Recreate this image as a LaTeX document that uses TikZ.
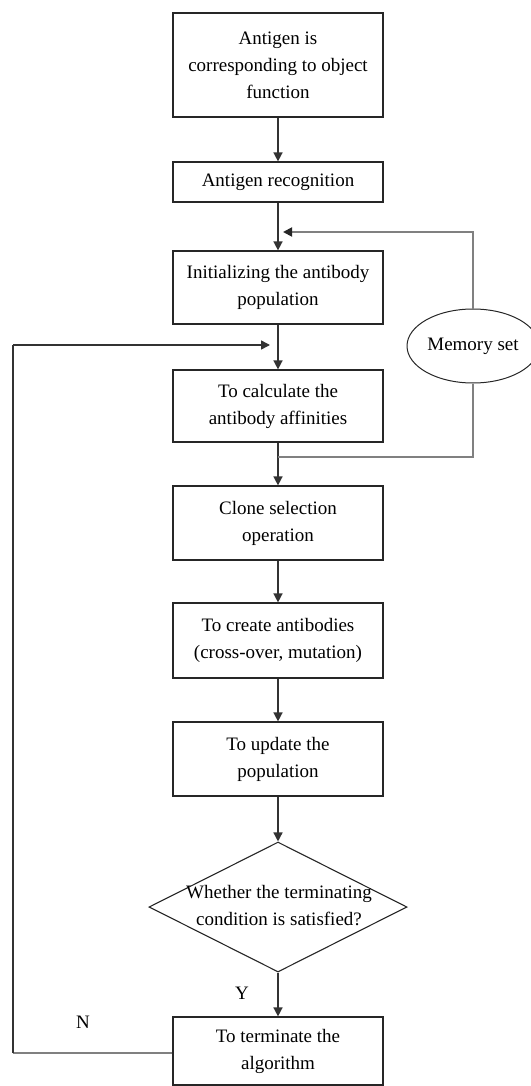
\documentclass[tikz,border=0pt]{standalone}
\usepackage{fontspec}
\setmainfont{Liberation Serif}
\usetikzlibrary{arrows.meta,shapes.geometric}
\tikzset{
  txt/.style={font=\fontsize{19pt}{27pt}\selectfont, align=center},
  box/.style={txt, draw=black!85, line width=1.2pt, minimum width=210pt, inner sep=0pt},
  arr/.style={draw=black!80, line width=1.5pt, -{Triangle[width=9pt,length=9pt]}},
  dline/.style={draw=black!80, line width=1.5pt},
  gline/.style={draw=black!50, line width=1.8pt},
  garr/.style={draw=black!50, line width=1.8pt, -{Triangle[width=9pt,length=9pt,color=black!85]}},
}
\begin{document}
\begin{tikzpicture}[x=1pt,y=-1pt]
\useasboundingbox (0,0) rectangle (530,1086);
\node[box, minimum height=104pt] (b1) at (278,65) {Antigen is\\corresponding to object\\function};
\node[box, minimum height=40pt] (b2) at (278,182) {Antigen recognition};
\node[box, minimum height=73pt] (b3) at (278,287.5) {Initializing the antibody\\population};
\node[box, minimum height=72pt] (b4) at (278,406) {To calculate the\\antibody affinities};
\node[box, minimum height=74pt] (b5) at (278,523) {Clone selection\\operation};
\node[box, minimum height=75pt] (b6) at (278,640.5) {To create antibodies\\(cross-over, mutation)};
\node[box, minimum height=74pt] (b7) at (278,759) {To update the\\population};
\node[diamond, draw=black!85, line width=1.1pt, minimum width=258pt, minimum height=130pt, inner sep=0pt] (d) at (278,907) {};
\node[txt] (dt) at (279,906) {Whether the terminating\\condition is satisfied?};
\node[box, minimum height=68pt] (b8) at (278,1051) {To terminate the\\algorithm};
\node[ellipse, draw=black!85, line width=1pt, minimum width=132pt, minimum height=74pt, inner sep=0pt, txt] (mem) at (473,346) {Memory set};
\node[txt] (ly) at (242,993) {Y};
\node[txt] (ln) at (83,1022) {N};

\coordinate (m1) at (278,457);
\coordinate (m2) at (283,232);
\coordinate (l0) at (13,1053);
\coordinate (l1) at (13,345);
\coordinate (l2) at (270,345);

\draw[arr] (b1) -- (b2);
\draw[arr] (b2) -- (b3);
\draw[arr] (b3) -- (b4);
\draw[arr] (b4) -- (b5);
\draw[arr] (b5) -- (b6);
\draw[arr] (b6) -- (b7);
\draw[arr] (b7) -- (d.north);
\draw[arr] (d.south) -- (b8);
\draw[gline] (m1) -| (mem.south);
\draw[garr] (mem.north) |- (m2);
\draw[gline] (b8.west |- l0) -- (l0);
\draw[dline] (l0) -- (l1);
\draw[arr] (l1) -- (l2);
\end{tikzpicture}
\end{document}
